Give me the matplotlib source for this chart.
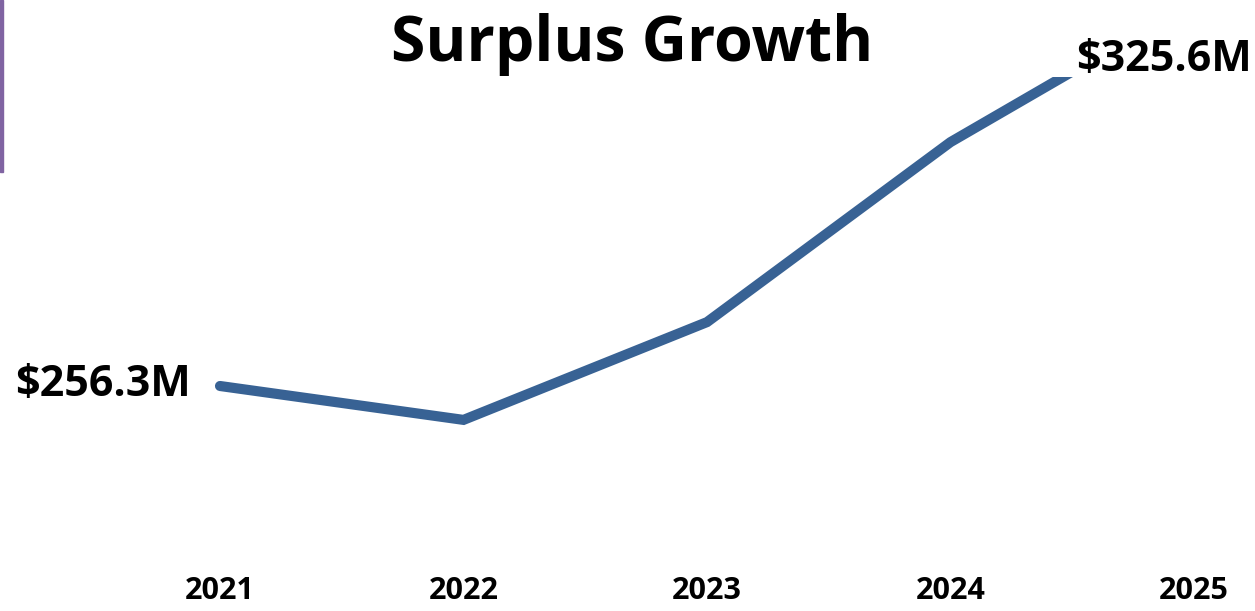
import matplotlib
matplotlib.use("Agg")
import matplotlib.pyplot as plt
from matplotlib.patches import Rectangle

# data
years = ["2021", "2022", "2023", "2024", "2025"]
surplus = [256.3, 250.2, 267.8, 300.2, 325.6]  # $M
first_label = "$256.3M"
last_label = "$325.6M"

W, H = 1255, 611
fig = plt.figure(figsize=(W / 100, H / 100), dpi=100)
plt.rcParams['font.family'] = ['Open Sans', 'DejaVu Sans']

# axes spans pixels x 0..1255, y 77..575
ax = fig.add_axes([0, 1 - 575 / H, 1, (575 - 77) / H])
x = list(range(len(years)))
ax.plot(x, surplus, color="#386294", lw=7.3, solid_capstyle="round",
        solid_joinstyle="miter")

# 2021 at px 220, spacing 243.5 px
step = 243.5
ax.set_xlim(-220 / step, (W - 220) / step)
# 256.3 sits at px 386, 0.18 $M per px
ax.set_ylim(256.3 - (575 - 386) * 0.18, 256.3 + (386 - 77) * 0.18)

ax.set_xticks(x)
ax.set_xticklabels(years, fontsize=22, fontweight="bold")
ax.tick_params(axis="x", length=0, pad=1)
ax.set_yticks([])
for s in ax.spines.values():
    s.set_visible(False)
ax.patch.set_alpha(0)

ax.annotate(first_label, xy=(x[0], surplus[0]), xytext=(-21, 1),
            textcoords="offset points", ha="right", va="center",
            fontsize=31, fontweight="bold", annotation_clip=False)
ax.annotate(last_label, xy=(x[-1], surplus[-1]), xytext=(-85, -42),
            textcoords="offset points", ha="left", va="center",
            fontsize=31, fontweight="bold", annotation_clip=False)

fig.text(632 / W, 1 - 44 / H, "Surplus Growth", ha="center", va="center",
         fontsize=45, fontweight="bold")

# purple edge bar on the left
fig.patches.append(Rectangle((0, 1 - 172 / H), 2.5 / W, 172 / H,
                             transform=fig.transFigure, color="#8064A2"))

fig.savefig("out.png", dpi=100)
